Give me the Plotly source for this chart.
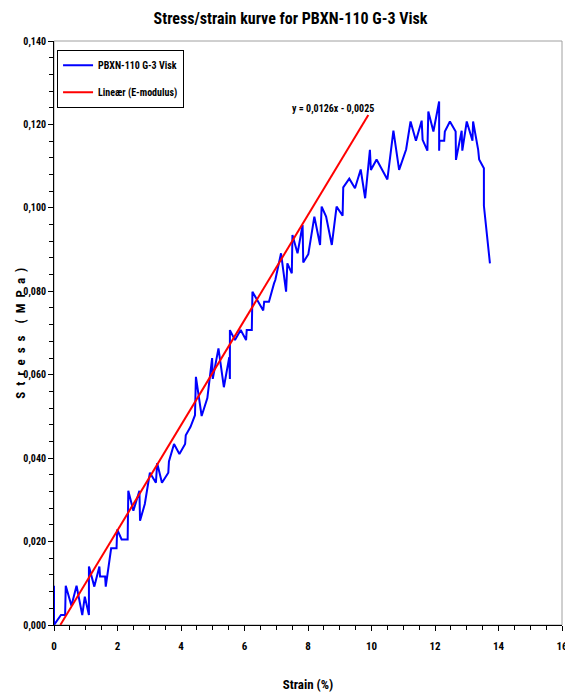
import plotly.graph_objects as go

strain = [0.00, 0.00, 0.22, 0.35, 0.37, 0.55, 0.71, 0.89, 0.97, 1.10, 1.10, 1.27, 1.43, 1.45, 1.61, 1.63,
          1.80, 1.97, 1.99, 2.13, 2.32, 2.34, 2.50, 2.69, 2.71, 2.86, 3.02, 3.21, 3.25, 3.40, 3.60, 3.62,
          3.78, 3.95, 4.13, 4.15, 4.30, 4.44, 4.47, 4.65, 4.83, 4.98, 5.00, 5.18, 5.35, 5.52, 5.54, 5.54,
          5.70, 5.88, 6.05, 6.07, 6.23, 6.25, 6.40, 6.59, 6.62, 6.77, 6.93, 6.97, 7.15, 7.31, 7.35, 7.49,
          7.51, 7.67, 7.83, 7.85, 8.01, 8.20, 8.38, 8.43, 8.57, 8.75, 8.90, 9.09, 9.11, 9.30, 9.48, 9.66,
          9.80, 9.95, 9.98, 10.16, 10.50, 10.69, 10.87, 11.09, 11.23, 11.40, 11.58, 11.61, 11.76, 11.79,
          11.95, 12.13, 12.13, 12.14, 12.29, 12.31, 12.47, 12.65, 12.66, 12.84, 12.86, 13.00, 13.18, 13.20,
          13.36, 13.39, 13.54, 13.54, 13.73]
stress = [0.0094, 0.0000, 0.0024, 0.0024, 0.0094, 0.0046, 0.0094, 0.0024, 0.0068, 0.0024, 0.0140, 0.0092,
          0.0140, 0.0116, 0.0116, 0.0092, 0.0184, 0.0184, 0.0229, 0.0205, 0.0205, 0.0322, 0.0274, 0.0322,
          0.0250, 0.0290, 0.0365, 0.0341, 0.0388, 0.0341, 0.0365, 0.0392, 0.0434, 0.0410, 0.0434, 0.0455,
          0.0475, 0.0503, 0.0595, 0.0501, 0.0544, 0.0640, 0.0590, 0.0663, 0.0570, 0.0642, 0.0590, 0.0707,
          0.0683, 0.0707, 0.0683, 0.0707, 0.0707, 0.0799, 0.0779, 0.0754, 0.0775, 0.0775, 0.0819, 0.0827,
          0.0891, 0.0799, 0.0867, 0.0843, 0.0935, 0.0891, 0.0959, 0.0869, 0.0889, 0.0979, 0.0911, 0.1003,
          0.0979, 0.0911, 0.1003, 0.0981, 0.1049, 0.1070, 0.1047, 0.1092, 0.1023, 0.1139, 0.1091, 0.1116,
          0.1068, 0.1185, 0.1091, 0.1140, 0.1207, 0.1161, 0.1209, 0.1163, 0.1137, 0.1231, 0.1183, 0.1255,
          0.1137, 0.1161, 0.1161, 0.1183, 0.1207, 0.1183, 0.1115, 0.1185, 0.1137, 0.1207, 0.1161, 0.1207,
          0.1139, 0.1116, 0.1095, 0.1005, 0.0867]

slope = 0.0126
intercept = -0.0025
fit_x = [0.2, 9.9]
fit_y = [slope * v + intercept for v in fit_x]

FONT = ("Liberation Sans Narrow, Arial Narrow, Roboto Condensed, Noto Sans Condensed, "
        "DejaVu Sans Condensed, Liberation Sans, Arial, sans-serif")

fig = go.Figure()
fig.add_trace(go.Scatter(x=strain, y=stress, mode="lines", name="<b>PBXN-110 G-3 Visk</b>",
                         line=dict(color="#0000ff", width=2), legendgroup="a"))
fig.add_trace(go.Scatter(x=fit_x, y=fit_y, mode="lines", name="<b>Lineær (E-modulus)</b>",
                         line=dict(color="#ff0000", width=2), legendgroup="b"))

fig.update_layout(
    width=565, height=689,
    margin=dict(l=46, r=11, t=33, b=72, autoexpand=False),
    paper_bgcolor="white", plot_bgcolor="white",
    separators=", ",
    font=dict(family=FONT, color="black", size=10),
    title=dict(text="<b>Stress/strain kurve for PBXN-110 G-3 Visk</b>", x=0.5, xanchor="center",
               y=0.985, yanchor="middle", font=dict(size=16, family=FONT)),
    showlegend=True,
    legend=dict(x=0.006, y=0.985, xanchor="left", yanchor="top", bordercolor="black", borderwidth=1,
                bgcolor="white", font=dict(size=10, family=FONT), tracegroupgap=8, itemwidth=30),
    xaxis=dict(range=[0, 16], dtick=2, showgrid=False, zeroline=False, showline=True, linecolor="black",
               linewidth=1, ticks="outside", ticklen=5, tickcolor="black", automargin=False,
               ticklabelstandoff=6,
               minor=dict(dtick=0.5, ticks="outside", ticklen=4, tickcolor="black"),
               tickfont=dict(size=11, family=FONT), tickprefix="<b>", ticksuffix="</b>",
               title=dict(text="<b>Strain (%)</b>", font=dict(size=13, family=FONT), standoff=27)),
    yaxis=dict(range=[0, 0.14], dtick=0.02, tickformat=".3f", showgrid=False, zeroline=False, showline=True,
               linecolor="black", linewidth=1, ticks="outside", ticklen=5, tickcolor="black", automargin=False,
               minor=dict(dtick=0.004, ticks="outside", ticklen=4, tickcolor="black"),
               tickfont=dict(size=10, family=FONT), tickprefix="<b>", ticksuffix="</b>"),
)

fig.add_shape(type="rect", xref="paper", yref="paper", x0=0, y0=0, x1=1, y1=1,
              line=dict(color="#a0a0a0", width=1), layer="below")

fig.add_annotation(text="<b>S  t  r  e  s  s    (  M  P  a  )</b>", textangle=-90, xref="paper", yref="paper",
                   x=-0.086, y=0.50, showarrow=False, font=dict(size=13, family=FONT))
fig.add_annotation(text="<b>y = 0,0126x - 0,0025</b>", xref="x", yref="y", x=8.8, y=0.1237,
                   showarrow=False, font=dict(size=10, family=FONT))

fig.write_html("out.html")
